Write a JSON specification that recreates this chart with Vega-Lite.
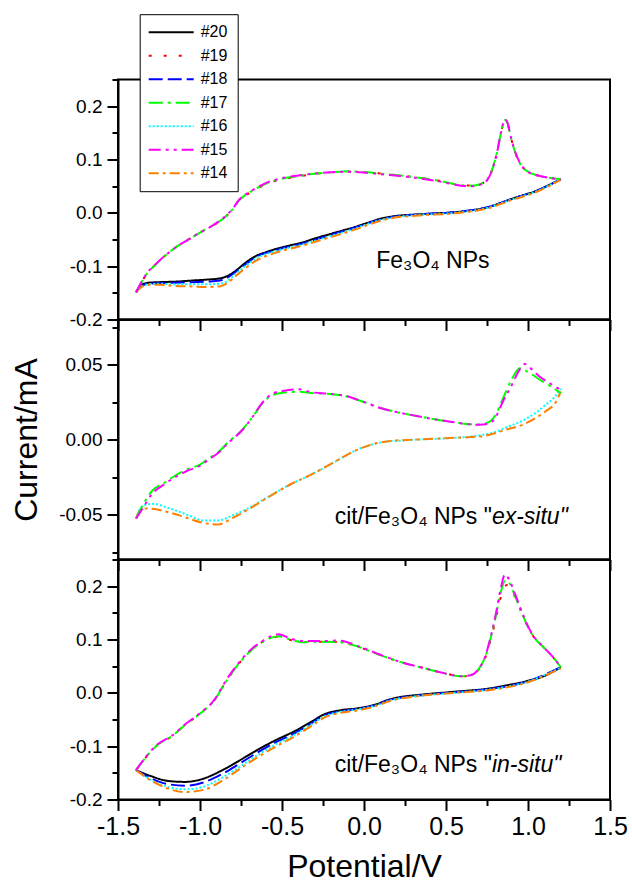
{
  "$schema": "https://vega.github.io/schema/vega-lite/v6.json",
  "padding": {"left": 9, "top": 12.5, "right": 5, "bottom": 0},
  "bounds": "flush",
  "spacing": 0,
  "config": {
    "font": "Liberation Sans",
    "view": {"stroke": "black", "strokeWidth": 2},
    "axis": {
      "grid": false, "domainColor": "black", "domainWidth": 2,
      "tickColor": "black", "tickWidth": 2, "tickSize": 11,
      "labelColor": "black", "labelFont": "Liberation Sans",
      "titleFont": "Liberation Sans", "titleFontWeight": "normal", "titleColor": "black",
      "labelFlush": false, "labelOverlap": false, "labelBound": false
    }
  },
  "datasets": {
    "top": [
      {"s":"#20","E":1.2,"I":0.063},{"s":"#20","E":1.12,"I":0.051},{"s":"#20","E":1.05,"I":0.041},{"s":"#20","E":0.98,"I":0.034},{"s":"#20","E":0.9,"I":0.026},{"s":"#20","E":0.82,"I":0.017},{"s":"#20","E":0.76,"I":0.011},{"s":"#20","E":0.66,"I":0.005},{"s":"#20","E":0.55,"I":0.001},{"s":"#20","E":0.44,"I":-0.001},{"s":"#20","E":0.33,"I":-0.003},{"s":"#20","E":0.22,"I":-0.005},{"s":"#20","E":0.15,"I":-0.008},{"s":"#20","E":0.1,"I":-0.011},{"s":"#20","E":0.05,"I":-0.016},{"s":"#20","E":0.0,"I":-0.021},{"s":"#20","E":-0.06,"I":-0.027},{"s":"#20","E":-0.14,"I":-0.034},{"s":"#20","E":-0.22,"I":-0.041},{"s":"#20","E":-0.3,"I":-0.048},{"s":"#20","E":-0.37,"I":-0.055},{"s":"#20","E":-0.45,"I":-0.061},{"s":"#20","E":-0.54,"I":-0.068},{"s":"#20","E":-0.6,"I":-0.074},{"s":"#20","E":-0.66,"I":-0.081},{"s":"#20","E":-0.72,"I":-0.093},{"s":"#20","E":-0.78,"I":-0.108},{"s":"#20","E":-0.83,"I":-0.118},{"s":"#20","E":-0.88,"I":-0.123},{"s":"#20","E":-0.95,"I":-0.125},{"s":"#20","E":-1.05,"I":-0.127},{"s":"#20","E":-1.15,"I":-0.129},{"s":"#20","E":-1.25,"I":-0.13},{"s":"#20","E":-1.31,"I":-0.131},{"s":"#20","E":-1.35,"I":-0.134},{"s":"#20","E":-1.39,"I":-0.149},
      {"s":"#18","E":1.2,"I":0.063},{"s":"#18","E":1.05,"I":0.041},{"s":"#18","E":0.9,"I":0.026},{"s":"#18","E":0.76,"I":0.011},{"s":"#18","E":0.55,"I":0.001},{"s":"#18","E":0.33,"I":-0.003},{"s":"#18","E":0.15,"I":-0.009},{"s":"#18","E":0.05,"I":-0.017},{"s":"#18","E":-0.06,"I":-0.028},{"s":"#18","E":-0.22,"I":-0.043},{"s":"#18","E":-0.37,"I":-0.057},{"s":"#18","E":-0.54,"I":-0.07},{"s":"#18","E":-0.66,"I":-0.083},{"s":"#18","E":-0.72,"I":-0.096},{"s":"#18","E":-0.78,"I":-0.11},{"s":"#18","E":-0.83,"I":-0.121},{"s":"#18","E":-0.88,"I":-0.127},{"s":"#18","E":-0.95,"I":-0.129},{"s":"#18","E":-1.05,"I":-0.13},{"s":"#18","E":-1.15,"I":-0.131},{"s":"#18","E":-1.25,"I":-0.132},{"s":"#18","E":-1.31,"I":-0.133},{"s":"#18","E":-1.35,"I":-0.136},{"s":"#18","E":-1.39,"I":-0.149},
      {"s":"#16","E":1.2,"I":0.063},{"s":"#16","E":1.05,"I":0.04},{"s":"#16","E":0.9,"I":0.025},{"s":"#16","E":0.76,"I":0.01},{"s":"#16","E":0.55,"I":0.0},{"s":"#16","E":0.33,"I":-0.004},{"s":"#16","E":0.15,"I":-0.01},{"s":"#16","E":0.05,"I":-0.018},{"s":"#16","E":-0.06,"I":-0.03},{"s":"#16","E":-0.22,"I":-0.045},{"s":"#16","E":-0.37,"I":-0.059},{"s":"#16","E":-0.54,"I":-0.072},{"s":"#16","E":-0.66,"I":-0.086},{"s":"#16","E":-0.72,"I":-0.099},{"s":"#16","E":-0.78,"I":-0.114},{"s":"#16","E":-0.83,"I":-0.127},{"s":"#16","E":-0.88,"I":-0.133},{"s":"#16","E":-0.95,"I":-0.134},{"s":"#16","E":-1.05,"I":-0.134},{"s":"#16","E":-1.15,"I":-0.134},{"s":"#16","E":-1.25,"I":-0.133},{"s":"#16","E":-1.31,"I":-0.134},{"s":"#16","E":-1.35,"I":-0.137},{"s":"#16","E":-1.39,"I":-0.149},
      {"s":"#14","E":1.2,"I":0.062},{"s":"#14","E":1.05,"I":0.039},{"s":"#14","E":0.9,"I":0.024},{"s":"#14","E":0.76,"I":0.009},{"s":"#14","E":0.55,"I":-0.001},{"s":"#14","E":0.33,"I":-0.005},{"s":"#14","E":0.15,"I":-0.011},{"s":"#14","E":0.05,"I":-0.02},{"s":"#14","E":-0.06,"I":-0.032},{"s":"#14","E":-0.22,"I":-0.047},{"s":"#14","E":-0.37,"I":-0.061},{"s":"#14","E":-0.54,"I":-0.075},{"s":"#14","E":-0.66,"I":-0.09},{"s":"#14","E":-0.72,"I":-0.103},{"s":"#14","E":-0.78,"I":-0.118},{"s":"#14","E":-0.83,"I":-0.131},{"s":"#14","E":-0.88,"I":-0.138},{"s":"#14","E":-0.95,"I":-0.139},{"s":"#14","E":-1.05,"I":-0.138},{"s":"#14","E":-1.15,"I":-0.137},{"s":"#14","E":-1.25,"I":-0.135},{"s":"#14","E":-1.31,"I":-0.135},{"s":"#14","E":-1.35,"I":-0.138},{"s":"#14","E":-1.39,"I":-0.149},
      {"s":"#19","E":-1.39,"I":-0.149},{"s":"#19","E":-1.33,"I":-0.117},{"s":"#19","E":-1.26,"I":-0.094},{"s":"#19","E":-1.2,"I":-0.077},{"s":"#19","E":-1.13,"I":-0.061},{"s":"#19","E":-1.06,"I":-0.048},{"s":"#19","E":-1.0,"I":-0.037},{"s":"#19","E":-0.94,"I":-0.027},{"s":"#19","E":-0.89,"I":-0.018},{"s":"#19","E":-0.84,"I":-0.006},{"s":"#19","E":-0.8,"I":0.007},{"s":"#19","E":-0.76,"I":0.024},{"s":"#19","E":-0.71,"I":0.035},{"s":"#19","E":-0.66,"I":0.044},{"s":"#19","E":-0.59,"I":0.055},{"s":"#19","E":-0.5,"I":0.063},{"s":"#19","E":-0.4,"I":0.068},{"s":"#19","E":-0.32,"I":0.072},{"s":"#19","E":-0.2,"I":0.076},{"s":"#19","E":-0.1,"I":0.077},{"s":"#19","E":0.02,"I":0.076},{"s":"#19","E":0.12,"I":0.073},{"s":"#19","E":0.22,"I":0.07},{"s":"#19","E":0.33,"I":0.066},{"s":"#19","E":0.44,"I":0.061},{"s":"#19","E":0.52,"I":0.056},{"s":"#19","E":0.59,"I":0.052},{"s":"#19","E":0.66,"I":0.051},{"s":"#19","E":0.71,"I":0.054},{"s":"#19","E":0.75,"I":0.062},{"s":"#19","E":0.78,"I":0.08},{"s":"#19","E":0.81,"I":0.112},{"s":"#19","E":0.835,"I":0.15},{"s":"#19","E":0.86,"I":0.173},{"s":"#19","E":0.875,"I":0.167},{"s":"#19","E":0.895,"I":0.142},{"s":"#19","E":0.92,"I":0.115},{"s":"#19","E":0.95,"I":0.093},{"s":"#19","E":0.99,"I":0.079},{"s":"#19","E":1.05,"I":0.071},{"s":"#19","E":1.12,"I":0.066},{"s":"#19","E":1.2,"I":0.063},
      {"s":"#17","E":-1.39,"I":-0.149},{"s":"#17","E":-1.33,"I":-0.117},{"s":"#17","E":-1.26,"I":-0.094},{"s":"#17","E":-1.2,"I":-0.077},{"s":"#17","E":-1.13,"I":-0.061},{"s":"#17","E":-1.06,"I":-0.048},{"s":"#17","E":-1.0,"I":-0.037},{"s":"#17","E":-0.94,"I":-0.027},{"s":"#17","E":-0.89,"I":-0.018},{"s":"#17","E":-0.84,"I":-0.006},{"s":"#17","E":-0.8,"I":0.007},{"s":"#17","E":-0.76,"I":0.024},{"s":"#17","E":-0.71,"I":0.036},{"s":"#17","E":-0.66,"I":0.045},{"s":"#17","E":-0.59,"I":0.056},{"s":"#17","E":-0.5,"I":0.064},{"s":"#17","E":-0.4,"I":0.069},{"s":"#17","E":-0.32,"I":0.073},{"s":"#17","E":-0.2,"I":0.076},{"s":"#17","E":-0.1,"I":0.078},{"s":"#17","E":0.02,"I":0.076},{"s":"#17","E":0.12,"I":0.073},{"s":"#17","E":0.22,"I":0.07},{"s":"#17","E":0.33,"I":0.066},{"s":"#17","E":0.44,"I":0.061},{"s":"#17","E":0.52,"I":0.056},{"s":"#17","E":0.59,"I":0.052},{"s":"#17","E":0.66,"I":0.051},{"s":"#17","E":0.71,"I":0.054},{"s":"#17","E":0.75,"I":0.062},{"s":"#17","E":0.78,"I":0.08},{"s":"#17","E":0.81,"I":0.112},{"s":"#17","E":0.835,"I":0.15},{"s":"#17","E":0.86,"I":0.174},{"s":"#17","E":0.875,"I":0.168},{"s":"#17","E":0.895,"I":0.142},{"s":"#17","E":0.92,"I":0.115},{"s":"#17","E":0.95,"I":0.093},{"s":"#17","E":0.99,"I":0.079},{"s":"#17","E":1.05,"I":0.071},{"s":"#17","E":1.12,"I":0.066},{"s":"#17","E":1.2,"I":0.063},
      {"s":"#15","E":-1.39,"I":-0.149},{"s":"#15","E":-1.33,"I":-0.116},{"s":"#15","E":-1.26,"I":-0.093},{"s":"#15","E":-1.2,"I":-0.077},{"s":"#15","E":-1.13,"I":-0.061},{"s":"#15","E":-1.06,"I":-0.048},{"s":"#15","E":-1.0,"I":-0.037},{"s":"#15","E":-0.94,"I":-0.027},{"s":"#15","E":-0.89,"I":-0.017},{"s":"#15","E":-0.84,"I":-0.005},{"s":"#15","E":-0.8,"I":0.008},{"s":"#15","E":-0.76,"I":0.025},{"s":"#15","E":-0.71,"I":0.037},{"s":"#15","E":-0.66,"I":0.046},{"s":"#15","E":-0.59,"I":0.057},{"s":"#15","E":-0.5,"I":0.065},{"s":"#15","E":-0.4,"I":0.07},{"s":"#15","E":-0.32,"I":0.073},{"s":"#15","E":-0.2,"I":0.076},{"s":"#15","E":-0.1,"I":0.077},{"s":"#15","E":0.02,"I":0.075},{"s":"#15","E":0.12,"I":0.072},{"s":"#15","E":0.22,"I":0.069},{"s":"#15","E":0.33,"I":0.065},{"s":"#15","E":0.44,"I":0.06},{"s":"#15","E":0.52,"I":0.055},{"s":"#15","E":0.59,"I":0.051},{"s":"#15","E":0.66,"I":0.05},{"s":"#15","E":0.71,"I":0.053},{"s":"#15","E":0.75,"I":0.061},{"s":"#15","E":0.78,"I":0.079},{"s":"#15","E":0.81,"I":0.111},{"s":"#15","E":0.835,"I":0.15},{"s":"#15","E":0.86,"I":0.175},{"s":"#15","E":0.875,"I":0.169},{"s":"#15","E":0.895,"I":0.143},{"s":"#15","E":0.92,"I":0.116},{"s":"#15","E":0.95,"I":0.094},{"s":"#15","E":0.99,"I":0.079},{"s":"#15","E":1.05,"I":0.071},{"s":"#15","E":1.12,"I":0.066},{"s":"#15","E":1.2,"I":0.063}
    ],
    "mid": [
      {"s":"#16","E":1.2,"I":0.034},{"s":"#16","E":1.16,"I":0.028},{"s":"#16","E":1.11,"I":0.0233},{"s":"#16","E":1.05,"I":0.018},{"s":"#16","E":0.98,"I":0.0133},{"s":"#16","E":0.87,"I":0.0082},{"s":"#16","E":0.8,"I":0.005},{"s":"#16","E":0.72,"I":0.003},{"s":"#16","E":0.6,"I":0.0015},{"s":"#16","E":0.45,"I":0.0005},{"s":"#16","E":0.33,"I":0.0},{"s":"#16","E":0.22,"I":-0.0008},{"s":"#16","E":0.15,"I":-0.0012},{"s":"#16","E":0.05,"I":-0.0033},{"s":"#16","E":-0.06,"I":-0.0078},{"s":"#16","E":-0.19,"I":-0.0156},{"s":"#16","E":-0.32,"I":-0.0233},{"s":"#16","E":-0.45,"I":-0.03},{"s":"#16","E":-0.59,"I":-0.0385},{"s":"#16","E":-0.69,"I":-0.045},{"s":"#16","E":-0.8,"I":-0.0505},{"s":"#16","E":-0.89,"I":-0.054},{"s":"#16","E":-0.98,"I":-0.054},{"s":"#16","E":-1.06,"I":-0.051},{"s":"#16","E":-1.13,"I":-0.048},{"s":"#16","E":-1.21,"I":-0.045},{"s":"#16","E":-1.28,"I":-0.0429},{"s":"#16","E":-1.33,"I":-0.0435},{"s":"#16","E":-1.37,"I":-0.047},{"s":"#16","E":-1.39,"I":-0.0527},
      {"s":"#14","E":1.2,"I":0.032},{"s":"#14","E":1.17,"I":0.025},{"s":"#14","E":1.11,"I":0.019},{"s":"#14","E":1.05,"I":0.0145},{"s":"#14","E":0.98,"I":0.0104},{"s":"#14","E":0.87,"I":0.0067},{"s":"#14","E":0.72,"I":0.0022},{"s":"#14","E":0.55,"I":0.0011},{"s":"#14","E":0.33,"I":0.0},{"s":"#14","E":0.15,"I":-0.0011},{"s":"#14","E":0.05,"I":-0.0033},{"s":"#14","E":-0.06,"I":-0.0078},{"s":"#14","E":-0.19,"I":-0.0156},{"s":"#14","E":-0.32,"I":-0.0233},{"s":"#14","E":-0.45,"I":-0.03},{"s":"#14","E":-0.59,"I":-0.0389},{"s":"#14","E":-0.69,"I":-0.0456},{"s":"#14","E":-0.8,"I":-0.0522},{"s":"#14","E":-0.89,"I":-0.0567},{"s":"#14","E":-0.98,"I":-0.0556},{"s":"#14","E":-1.06,"I":-0.053},{"s":"#14","E":-1.13,"I":-0.0504},{"s":"#14","E":-1.21,"I":-0.048},{"s":"#14","E":-1.26,"I":-0.0467},{"s":"#14","E":-1.33,"I":-0.046},{"s":"#14","E":-1.37,"I":-0.048},{"s":"#14","E":-1.39,"I":-0.0527},
      {"s":"#17","E":-1.39,"I":-0.0527},{"s":"#17","E":-1.35,"I":-0.044},{"s":"#17","E":-1.29,"I":-0.034},{"s":"#17","E":-1.22,"I":-0.029},{"s":"#17","E":-1.15,"I":-0.024},{"s":"#17","E":-1.08,"I":-0.02},{"s":"#17","E":-1.0,"I":-0.0167},{"s":"#17","E":-0.94,"I":-0.012},{"s":"#17","E":-0.89,"I":-0.0085},{"s":"#17","E":-0.83,"I":-0.002},{"s":"#17","E":-0.74,"I":0.0067},{"s":"#17","E":-0.68,"I":0.015},{"s":"#17","E":-0.62,"I":0.024},{"s":"#17","E":-0.55,"I":0.03},{"s":"#17","E":-0.47,"I":0.0315},{"s":"#17","E":-0.4,"I":0.0318},{"s":"#17","E":-0.32,"I":0.031},{"s":"#17","E":-0.21,"I":0.0303},{"s":"#17","E":-0.11,"I":0.0289},{"s":"#17","E":0.0,"I":0.025},{"s":"#17","E":0.1,"I":0.021},{"s":"#17","E":0.22,"I":0.0178},{"s":"#17","E":0.33,"I":0.0155},{"s":"#17","E":0.44,"I":0.0133},{"s":"#17","E":0.55,"I":0.0115},{"s":"#17","E":0.62,"I":0.0104},{"s":"#17","E":0.7,"I":0.01},{"s":"#17","E":0.75,"I":0.011},{"s":"#17","E":0.8,"I":0.016},{"s":"#17","E":0.85,"I":0.028},{"s":"#17","E":0.9,"I":0.04},{"s":"#17","E":0.95,"I":0.0475},{"s":"#17","E":1.0,"I":0.045},{"s":"#17","E":1.07,"I":0.04},{"s":"#17","E":1.13,"I":0.036},{"s":"#17","E":1.2,"I":0.031},
      {"s":"#15","E":-1.39,"I":-0.0527},{"s":"#15","E":-1.35,"I":-0.046},{"s":"#15","E":-1.29,"I":-0.036},{"s":"#15","E":-1.22,"I":-0.03},{"s":"#15","E":-1.15,"I":-0.025},{"s":"#15","E":-1.08,"I":-0.021},{"s":"#15","E":-1.0,"I":-0.0175},{"s":"#15","E":-0.94,"I":-0.0128},{"s":"#15","E":-0.89,"I":-0.009},{"s":"#15","E":-0.83,"I":-0.0025},{"s":"#15","E":-0.74,"I":0.0065},{"s":"#15","E":-0.68,"I":0.015},{"s":"#15","E":-0.62,"I":0.0245},{"s":"#15","E":-0.55,"I":0.031},{"s":"#15","E":-0.47,"I":0.0328},{"s":"#15","E":-0.4,"I":0.0335},{"s":"#15","E":-0.32,"I":0.0315},{"s":"#15","E":-0.21,"I":0.0305},{"s":"#15","E":-0.11,"I":0.029},{"s":"#15","E":0.0,"I":0.025},{"s":"#15","E":0.1,"I":0.021},{"s":"#15","E":0.22,"I":0.0178},{"s":"#15","E":0.33,"I":0.0155},{"s":"#15","E":0.44,"I":0.0133},{"s":"#15","E":0.55,"I":0.0115},{"s":"#15","E":0.62,"I":0.0104},{"s":"#15","E":0.7,"I":0.0098},{"s":"#15","E":0.76,"I":0.0105},{"s":"#15","E":0.8,"I":0.0144},{"s":"#15","E":0.85,"I":0.026},{"s":"#15","E":0.9,"I":0.036},{"s":"#15","E":0.94,"I":0.045},{"s":"#15","E":0.98,"I":0.0504},{"s":"#15","E":1.03,"I":0.046},{"s":"#15","E":1.07,"I":0.042},{"s":"#15","E":1.14,"I":0.037},{"s":"#15","E":1.2,"I":0.033}
    ],
    "bot": [
      {"s":"#20","E":1.2,"I":0.048},{"s":"#20","E":1.11,"I":0.033},{"s":"#20","E":0.98,"I":0.021},{"s":"#20","E":0.87,"I":0.014},{"s":"#20","E":0.76,"I":0.008},{"s":"#20","E":0.55,"I":0.002},{"s":"#20","E":0.33,"I":-0.004},{"s":"#20","E":0.22,"I":-0.008},{"s":"#20","E":0.15,"I":-0.013},{"s":"#20","E":0.07,"I":-0.022},{"s":"#20","E":-0.04,"I":-0.029},{"s":"#20","E":-0.15,"I":-0.033},{"s":"#20","E":-0.24,"I":-0.04},{"s":"#20","E":-0.32,"I":-0.054},{"s":"#20","E":-0.43,"I":-0.073},{"s":"#20","E":-0.54,"I":-0.089},{"s":"#20","E":-0.65,"I":-0.107},{"s":"#20","E":-0.76,"I":-0.127},{"s":"#20","E":-0.87,"I":-0.146},{"s":"#20","E":-0.98,"I":-0.161},{"s":"#20","E":-1.09,"I":-0.167},{"s":"#20","E":-1.2,"I":-0.165},{"s":"#20","E":-1.3,"I":-0.156},{"s":"#20","E":-1.39,"I":-0.145},
      {"s":"#18","E":1.2,"I":0.048},{"s":"#18","E":0.98,"I":0.02},{"s":"#18","E":0.76,"I":0.007},{"s":"#18","E":0.55,"I":0.001},{"s":"#18","E":0.33,"I":-0.005},{"s":"#18","E":0.15,"I":-0.014},{"s":"#18","E":0.07,"I":-0.023},{"s":"#18","E":-0.04,"I":-0.03},{"s":"#18","E":-0.15,"I":-0.035},{"s":"#18","E":-0.24,"I":-0.042},{"s":"#18","E":-0.32,"I":-0.057},{"s":"#18","E":-0.43,"I":-0.077},{"s":"#18","E":-0.54,"I":-0.093},{"s":"#18","E":-0.65,"I":-0.112},{"s":"#18","E":-0.76,"I":-0.133},{"s":"#18","E":-0.87,"I":-0.153},{"s":"#18","E":-0.98,"I":-0.168},{"s":"#18","E":-1.09,"I":-0.174},{"s":"#18","E":-1.2,"I":-0.171},{"s":"#18","E":-1.3,"I":-0.16},{"s":"#18","E":-1.39,"I":-0.145},
      {"s":"#16","E":1.2,"I":0.047},{"s":"#16","E":0.98,"I":0.019},{"s":"#16","E":0.76,"I":0.006},{"s":"#16","E":0.55,"I":0.0},{"s":"#16","E":0.33,"I":-0.006},{"s":"#16","E":0.15,"I":-0.015},{"s":"#16","E":0.07,"I":-0.024},{"s":"#16","E":-0.04,"I":-0.031},{"s":"#16","E":-0.15,"I":-0.036},{"s":"#16","E":-0.24,"I":-0.044},{"s":"#16","E":-0.32,"I":-0.059},{"s":"#16","E":-0.43,"I":-0.08},{"s":"#16","E":-0.54,"I":-0.097},{"s":"#16","E":-0.65,"I":-0.117},{"s":"#16","E":-0.76,"I":-0.139},{"s":"#16","E":-0.87,"I":-0.16},{"s":"#16","E":-0.98,"I":-0.176},{"s":"#16","E":-1.09,"I":-0.181},{"s":"#16","E":-1.2,"I":-0.176},{"s":"#16","E":-1.3,"I":-0.163},{"s":"#16","E":-1.39,"I":-0.145},
      {"s":"#14","E":1.2,"I":0.046},{"s":"#14","E":0.98,"I":0.018},{"s":"#14","E":0.76,"I":0.005},{"s":"#14","E":0.55,"I":0.0},{"s":"#14","E":0.33,"I":-0.006},{"s":"#14","E":0.15,"I":-0.016},{"s":"#14","E":0.07,"I":-0.025},{"s":"#14","E":-0.04,"I":-0.033},{"s":"#14","E":-0.15,"I":-0.038},{"s":"#14","E":-0.24,"I":-0.046},{"s":"#14","E":-0.32,"I":-0.062},{"s":"#14","E":-0.43,"I":-0.083},{"s":"#14","E":-0.54,"I":-0.101},{"s":"#14","E":-0.65,"I":-0.121},{"s":"#14","E":-0.76,"I":-0.143},{"s":"#14","E":-0.87,"I":-0.166},{"s":"#14","E":-0.98,"I":-0.182},{"s":"#14","E":-1.09,"I":-0.186},{"s":"#14","E":-1.2,"I":-0.179},{"s":"#14","E":-1.3,"I":-0.164},{"s":"#14","E":-1.39,"I":-0.145},
      {"s":"#19","E":-1.39,"I":-0.145},{"s":"#19","E":-1.33,"I":-0.121},{"s":"#19","E":-1.26,"I":-0.098},{"s":"#19","E":-1.17,"I":-0.081},{"s":"#19","E":-1.09,"I":-0.06},{"s":"#19","E":-1.0,"I":-0.039},{"s":"#19","E":-0.91,"I":-0.013},{"s":"#19","E":-0.85,"I":0.017},{"s":"#19","E":-0.78,"I":0.048},{"s":"#19","E":-0.69,"I":0.079},{"s":"#19","E":-0.61,"I":0.097},{"s":"#19","E":-0.52,"I":0.105},{"s":"#19","E":-0.46,"I":0.1},{"s":"#19","E":-0.37,"I":0.095},{"s":"#19","E":-0.26,"I":0.096},{"s":"#19","E":-0.15,"I":0.095},{"s":"#19","E":-0.04,"I":0.087},{"s":"#19","E":0.07,"I":0.074},{"s":"#19","E":0.22,"I":0.058},{"s":"#19","E":0.37,"I":0.046},{"s":"#19","E":0.5,"I":0.036},{"s":"#19","E":0.59,"I":0.031},{"s":"#19","E":0.65,"I":0.033},{"s":"#19","E":0.7,"I":0.044},{"s":"#19","E":0.74,"I":0.066},{"s":"#19","E":0.77,"I":0.097},{"s":"#19","E":0.8,"I":0.133},{"s":"#19","E":0.83,"I":0.175},{"s":"#19","E":0.86,"I":0.2},{"s":"#19","E":0.88,"I":0.203},{"s":"#19","E":0.92,"I":0.18},{"s":"#19","E":0.96,"I":0.151},{"s":"#19","E":0.99,"I":0.13},{"s":"#19","E":1.03,"I":0.107},{"s":"#19","E":1.09,"I":0.087},{"s":"#19","E":1.15,"I":0.068},{"s":"#19","E":1.2,"I":0.048},
      {"s":"#17","E":-1.39,"I":-0.145},{"s":"#17","E":-1.33,"I":-0.121},{"s":"#17","E":-1.26,"I":-0.098},{"s":"#17","E":-1.17,"I":-0.081},{"s":"#17","E":-1.09,"I":-0.06},{"s":"#17","E":-1.0,"I":-0.039},{"s":"#17","E":-0.91,"I":-0.013},{"s":"#17","E":-0.85,"I":0.017},{"s":"#17","E":-0.78,"I":0.048},{"s":"#17","E":-0.69,"I":0.079},{"s":"#17","E":-0.61,"I":0.097},{"s":"#17","E":-0.52,"I":0.106},{"s":"#17","E":-0.46,"I":0.101},{"s":"#17","E":-0.37,"I":0.095},{"s":"#17","E":-0.26,"I":0.096},{"s":"#17","E":-0.15,"I":0.095},{"s":"#17","E":-0.04,"I":0.087},{"s":"#17","E":0.07,"I":0.074},{"s":"#17","E":0.22,"I":0.058},{"s":"#17","E":0.37,"I":0.046},{"s":"#17","E":0.5,"I":0.036},{"s":"#17","E":0.59,"I":0.031},{"s":"#17","E":0.65,"I":0.033},{"s":"#17","E":0.7,"I":0.045},{"s":"#17","E":0.74,"I":0.068},{"s":"#17","E":0.77,"I":0.1},{"s":"#17","E":0.8,"I":0.138},{"s":"#17","E":0.83,"I":0.183},{"s":"#17","E":0.86,"I":0.21},{"s":"#17","E":0.88,"I":0.208},{"s":"#17","E":0.92,"I":0.182},{"s":"#17","E":0.96,"I":0.152},{"s":"#17","E":0.99,"I":0.13},{"s":"#17","E":1.03,"I":0.107},{"s":"#17","E":1.09,"I":0.087},{"s":"#17","E":1.15,"I":0.068},{"s":"#17","E":1.2,"I":0.048},
      {"s":"#15","E":-1.39,"I":-0.145},{"s":"#15","E":-1.33,"I":-0.12},{"s":"#15","E":-1.26,"I":-0.097},{"s":"#15","E":-1.17,"I":-0.08},{"s":"#15","E":-1.09,"I":-0.059},{"s":"#15","E":-1.0,"I":-0.038},{"s":"#15","E":-0.91,"I":-0.012},{"s":"#15","E":-0.85,"I":0.019},{"s":"#15","E":-0.78,"I":0.05},{"s":"#15","E":-0.69,"I":0.081},{"s":"#15","E":-0.61,"I":0.099},{"s":"#15","E":-0.52,"I":0.11},{"s":"#15","E":-0.46,"I":0.103},{"s":"#15","E":-0.37,"I":0.097},{"s":"#15","E":-0.26,"I":0.097},{"s":"#15","E":-0.15,"I":0.098},{"s":"#15","E":-0.04,"I":0.088},{"s":"#15","E":0.07,"I":0.075},{"s":"#15","E":0.22,"I":0.058},{"s":"#15","E":0.37,"I":0.046},{"s":"#15","E":0.5,"I":0.036},{"s":"#15","E":0.59,"I":0.031},{"s":"#15","E":0.65,"I":0.033},{"s":"#15","E":0.7,"I":0.045},{"s":"#15","E":0.74,"I":0.069},{"s":"#15","E":0.77,"I":0.102},{"s":"#15","E":0.8,"I":0.142},{"s":"#15","E":0.83,"I":0.19},{"s":"#15","E":0.86,"I":0.222},{"s":"#15","E":0.88,"I":0.215},{"s":"#15","E":0.92,"I":0.186},{"s":"#15","E":0.96,"I":0.154},{"s":"#15","E":0.99,"I":0.131},{"s":"#15","E":1.03,"I":0.108},{"s":"#15","E":1.09,"I":0.087},{"s":"#15","E":1.15,"I":0.068},{"s":"#15","E":1.2,"I":0.048}
    ]
  },
  "resolve": {"legend": {"color": "independent", "strokeDash": "independent"}},
  "vconcat": [
    {
      "width": 492, "height": 240,
      "layer": [
        {
          "data": {"name": "top"},
          "mark": {"type": "line", "strokeWidth": 2, "interpolate": "monotone"},
          "encoding": {
            "x": {"field": "E", "type": "quantitative", "scale": {"domain": [-1.5, 1.5], "nice": false, "zero": false},
              "axis": {"values": [-1.5,-1.25,-1,-0.75,-0.5,-0.25,0,0.25,0.5,0.75,1,1.25,1.5], "tickCount": 100, "labels": false, "title": null,
                "tickDash": {"condition": {"test": "abs(datum.value*2-round(datum.value*2))<1e-6", "value": [1,0]}, "value": [6,30]}}},
            "y": {"field": "I", "type": "quantitative", "scale": {"domain": [-0.2, 0.25], "nice": false, "zero": false},
              "axis": {"values": [-0.2,-0.15,-0.1,-0.05,0,0.05,0.1,0.15,0.2,0.25], "tickCount": 100, "title": null, "labelFontSize": 19, "labelPadding": 5,
                "labelExpr": "abs(datum.value*10-round(datum.value*10))<1e-6 ? replace(format(datum.value,'.1f'),'−','-') : ''",
                "tickDash": {"condition": {"test": "abs(datum.value*10-round(datum.value*10))<1e-6", "value": [1,0]}, "value": [6,30]}}},
            "color": {"field": "s", "type": "nominal",
              "scale": {"domain": ["#20","#19","#18","#17","#16","#15","#14"], "range": ["#000000","#ff0000","#0000ff","#00ff00","#00ffff","#ff00ff","#ff8000"]},
              "legend": {"orient": "none", "legendX": 21.7, "legendY": -65.3, "title": null,
                "symbolType": "M-3,0H12", "symbolSize": 36, "symbolStrokeWidth": 2,
                "labelFontSize": 16, "labelFont": "Liberation Sans", "labelColor": "black", "labelOffset": 35,
                "rowPadding": 7.5, "padding": 10, "strokeColor": "black", "fillColor": "white"}},
            "strokeDash": {"field": "s", "type": "nominal",
              "scale": {"domain": ["#20","#19","#18","#17","#16","#15","#14"], "range": [[1,0],[3,12],[14,5],[14,5,3,5],[2,2],[12,5,3,5,3,5],[10,4,3,4]]}}
          }
        },
        {
          "data": {"values": [{}]},
          "mark": {"type": "text", "font": "Liberation Sans", "fontSize": 23, "align": "center", "baseline": "alphabetic", "color": "black"},
          "encoding": {"x": {"datum": 0.42}, "y": {"datum": -0.104}, "text": {"value": "Fe₃O₄ NPs"}}
        }
      ]
    },
    {
      "width": 492, "height": 240,
      "layer": [
        {
          "data": {"name": "mid"},
          "mark": {"type": "line", "strokeWidth": 2, "interpolate": "monotone"},
          "encoding": {
            "x": {"field": "E", "type": "quantitative", "scale": {"domain": [-1.5, 1.5], "nice": false, "zero": false},
              "axis": {"values": [-1.5,-1.25,-1,-0.75,-0.5,-0.25,0,0.25,0.5,0.75,1,1.25,1.5], "tickCount": 100, "labels": false, "title": null,
                "tickDash": {"condition": {"test": "abs(datum.value*2-round(datum.value*2))<1e-6", "value": [1,0]}, "value": [6,30]}}},
            "y": {"field": "I", "type": "quantitative", "scale": {"domain": [-0.08, 0.08], "nice": false, "zero": false},
              "axis": {"values": [-0.075,-0.05,-0.025,0,0.025,0.05,0.075], "tickCount": 100, "title": "Current/mA", "titleFontSize": 32, "titlePadding": 15,
                "labelFontSize": 19, "labelPadding": 5,
                "labelExpr": "abs(datum.value)<0.001 ? '0.00' : abs(datum.value-0.05)<0.001 ? '0.05' : abs(datum.value+0.05)<0.001 ? '-0.05' : ''",
                "tickDash": {"condition": {"test": "abs(datum.value)<0.001 || abs(abs(datum.value)-0.05)<0.001", "value": [1,0]}, "value": [6,30]}}},
            "color": {"field": "s", "type": "nominal",
              "scale": {"domain": ["#20","#19","#18","#17","#16","#15","#14"], "range": ["#000000","#ff0000","#0000ff","#00ff00","#00ffff","#ff00ff","#ff8000"]},
              "legend": null},
            "strokeDash": {"field": "s", "type": "nominal",
              "scale": {"domain": ["#20","#19","#18","#17","#16","#15","#14"], "range": [[1,0],[3,12],[14,5],[14,5,3,5],[2,2],[12,5,3,5,3,5],[10,4,3,4]]},
              "legend": null}
          }
        },
        {
          "data": {"values": [{}]},
          "mark": {"type": "text", "font": "Liberation Sans", "fontSize": 23, "align": "right", "baseline": "alphabetic", "color": "black"},
          "encoding": {"x": {"datum": 0.78}, "y": {"datum": -0.0565}, "text": {"value": "cit/Fe₃O₄ NPs \""}}
        },
        {
          "data": {"values": [{}]},
          "mark": {"type": "text", "font": "Liberation Sans", "fontSize": 23, "fontStyle": "italic", "align": "left", "baseline": "alphabetic", "color": "black"},
          "encoding": {"x": {"datum": 0.78}, "y": {"datum": -0.0565}, "text": {"value": "ex-situ\""}}
        }
      ]
    },
    {
      "width": 492, "height": 240,
      "layer": [
        {
          "data": {"name": "bot"},
          "mark": {"type": "line", "strokeWidth": 2, "interpolate": "monotone"},
          "encoding": {
            "x": {"field": "E", "type": "quantitative", "scale": {"domain": [-1.5, 1.5], "nice": false, "zero": false},
              "axis": {"values": [-1.5,-1.25,-1,-0.75,-0.5,-0.25,0,0.25,0.5,0.75,1,1.25,1.5], "tickCount": 100, "title": "Potential/V", "titleFontSize": 32, "titlePadding": 12,
                "labelFontSize": 25, "labelPadding": 4,
                "labelExpr": "abs(datum.value*2-round(datum.value*2))<1e-6 ? replace(format(datum.value,'.1f'),'−','-') : ''",
                "tickDash": {"condition": {"test": "abs(datum.value*2-round(datum.value*2))<1e-6", "value": [1,0]}, "value": [6,30]}}},
            "y": {"field": "I", "type": "quantitative", "scale": {"domain": [-0.2, 0.25], "nice": false, "zero": false},
              "axis": {"values": [-0.2,-0.15,-0.1,-0.05,0,0.05,0.1,0.15,0.2,0.25], "tickCount": 100, "title": null, "labelFontSize": 19, "labelPadding": 5,
                "labelExpr": "abs(datum.value*10-round(datum.value*10))<1e-6 ? replace(format(datum.value,'.1f'),'−','-') : ''",
                "tickDash": {"condition": {"test": "abs(datum.value*10-round(datum.value*10))<1e-6", "value": [1,0]}, "value": [6,30]}}},
            "color": {"field": "s", "type": "nominal",
              "scale": {"domain": ["#20","#19","#18","#17","#16","#15","#14"], "range": ["#000000","#ff0000","#0000ff","#00ff00","#00ffff","#ff00ff","#ff8000"]},
              "legend": null},
            "strokeDash": {"field": "s", "type": "nominal",
              "scale": {"domain": ["#20","#19","#18","#17","#16","#15","#14"], "range": [[1,0],[3,12],[14,5],[14,5,3,5],[2,2],[12,5,3,5,3,5],[10,4,3,4]]},
              "legend": null}
          }
        },
        {
          "data": {"values": [{}]},
          "mark": {"type": "text", "font": "Liberation Sans", "fontSize": 23, "align": "right", "baseline": "alphabetic", "color": "black"},
          "encoding": {"x": {"datum": 0.78}, "y": {"datum": -0.149}, "text": {"value": "cit/Fe₃O₄ NPs \""}}
        },
        {
          "data": {"values": [{}]},
          "mark": {"type": "text", "font": "Liberation Sans", "fontSize": 23, "fontStyle": "italic", "align": "left", "baseline": "alphabetic", "color": "black"},
          "encoding": {"x": {"datum": 0.78}, "y": {"datum": -0.149}, "text": {"value": "in-situ\""}}
        }
      ]
    }
  ]
}
